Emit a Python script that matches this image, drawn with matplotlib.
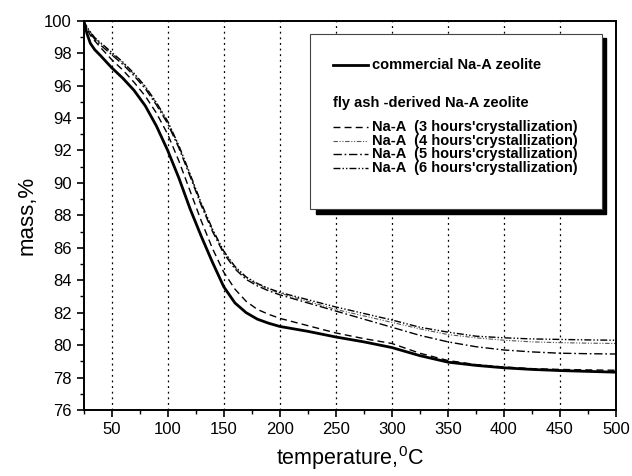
import numpy as np
import matplotlib
matplotlib.use("Agg")
import matplotlib.pyplot as plt
from matplotlib.lines import Line2D
from matplotlib.patches import Rectangle

plt.rcParams['font.family'] = ['Liberation Sans', 'DejaVu Sans']
plt.rcParams['mathtext.fontset'] = 'custom'
plt.rcParams['mathtext.rm'] = 'Liberation Sans'

# temperatures (C) and mass (%)
temp = [25, 28, 31, 35, 40, 50, 60, 70, 80, 90, 100, 110, 120, 130, 140, 150, 160,
        170, 180, 190, 200, 225, 250, 275, 300, 325, 350, 375, 400, 425, 450, 475, 500]
m_com = [100, 99.2, 98.6, 98.2, 97.85, 97.1, 96.45, 95.7, 94.75, 93.5, 92.0, 90.3, 88.4, 86.7, 85.1,
         83.6, 82.6, 82.0, 81.6, 81.35, 81.15, 80.85, 80.5, 80.2, 79.85, 79.35, 78.95, 78.75,
         78.6, 78.5, 78.43, 78.38, 78.33]
m_3h = [100, 99.5, 99.1, 98.75, 98.35, 97.6, 96.95, 96.2, 95.35, 94.3, 93.0, 91.35, 89.5, 87.65,
        85.95, 84.5, 83.45, 82.7, 82.2, 81.9, 81.65, 81.2, 80.75, 80.4, 80.1, 79.5, 79.05, 78.8,
        78.65, 78.55, 78.5, 78.47, 78.45]
m_4h = [100, 99.6, 99.3, 98.9, 98.6, 98.0, 97.4, 96.7, 95.9, 94.9, 93.75, 92.25, 90.5, 88.7,
        87.1, 85.75, 84.8, 84.15, 83.75, 83.45, 83.2, 82.7, 82.2, 81.8, 81.4, 81.0, 80.65, 80.45,
        80.3, 80.2, 80.15, 80.12, 80.1]
m_5h = [100, 99.5, 99.2, 98.85, 98.5, 97.9, 97.3, 96.6, 95.8, 94.8, 93.65, 92.15, 90.4, 88.6,
        87.0, 85.65, 84.7, 84.05, 83.65, 83.35, 83.1, 82.6, 82.1, 81.6, 81.1, 80.6, 80.2, 79.9,
        79.7, 79.58, 79.5, 79.47, 79.45]
m_6h = [100, 99.6, 99.3, 98.95, 98.65, 98.05, 97.45, 96.75, 95.95, 94.95, 93.8, 92.3, 90.55, 88.75,
        87.15, 85.8, 84.85, 84.2, 83.8, 83.5, 83.25, 82.8, 82.35, 81.95, 81.55, 81.1, 80.8, 80.55,
        80.45, 80.38, 80.35, 80.32, 80.3]

labels = ['commercial Na-A zeolite',
          "Na-A  (3 hours'crystallization)",
          "Na-A  (4 hours'crystallization)",
          "Na-A  (5 hours'crystallization)",
          "Na-A  (6 hours'crystallization)"]
styles = [dict(color='black', lw=2.0),
          dict(color='black', lw=1.0, dashes=(5, 3)),
          dict(color='#555555', lw=0.8, dashes=(4, 1.5, 1, 1.5, 1, 1.5)),
          dict(color='black', lw=1.0, dashes=(6, 2, 1.2, 2)),
          dict(color='black', lw=1.0, dashes=(5, 1.5, 1, 1.5, 1, 1.5))]

W, H = 632, 476
fig = plt.figure(figsize=(W / 100, H / 100), dpi=100)
ax = fig.add_axes([83.6 / W, 1 - 410 / H, (616 - 83.6) / W, (410 - 20.6) / H])

for m, st in zip([m_com, m_3h, m_4h, m_5h, m_6h], styles):
    ax.plot(temp, m, **st)

ax.set_xlim(25, 500)
ax.set_ylim(76, 100)
ax.set_xticks(np.arange(50, 501, 50))
ax.set_xticks(np.arange(25, 501, 25), minor=True)
ax.set_yticks(np.arange(76, 101, 2))
ax.set_yticks(np.arange(77, 100, 2), minor=True)
ax.tick_params(axis='both', which='major', direction='out', length=5, width=1.2, labelsize=12)
ax.tick_params(axis='both', which='minor', direction='out', length=3, width=1.0)
ax.grid(True, axis='x', which='major', linestyle=(0, (1.5, 3)), color='black', lw=0.9)
for s in ax.spines.values():
    s.set_linewidth(1.4)

ax.set_xlabel(r'temperature,$^{\mathregular{0}}$C', fontsize=15.5, labelpad=5)
ax.set_ylabel('mass,%', fontsize=16, labelpad=5)


# legend drawn by hand in figure pixels
def px(x, y):
    return x / W, 1 - y / H


tf = fig.transFigure
shadow = Rectangle(px(316, 214), 290 / W, 176 / H, transform=tf, color='black', zorder=10)
box = Rectangle(px(310, 209), 292 / W, 175 / H, transform=tf, facecolor='white',
                edgecolor='#444444', lw=0.8, zorder=11)
fig.patches.extend([shadow, box])

rows = [65, 127, 140.5, 154, 167.5]
for y, st, label in zip(rows, styles, labels):
    x0, yy = px(333, y)
    x1, _ = px(368, y)
    fig.add_artist(Line2D([x0, x1], [yy, yy], transform=tf, zorder=12, **st))
    fig.text(*px(372, y), label, fontsize=10.5, fontweight='bold', va='center', ha='left', zorder=12)
fig.text(*px(333, 102.5), 'fly ash -derived Na-A zeolite', fontsize=10.5, fontweight='bold',
         va='center', ha='left', zorder=12)

fig.savefig('out.png', dpi=100)
